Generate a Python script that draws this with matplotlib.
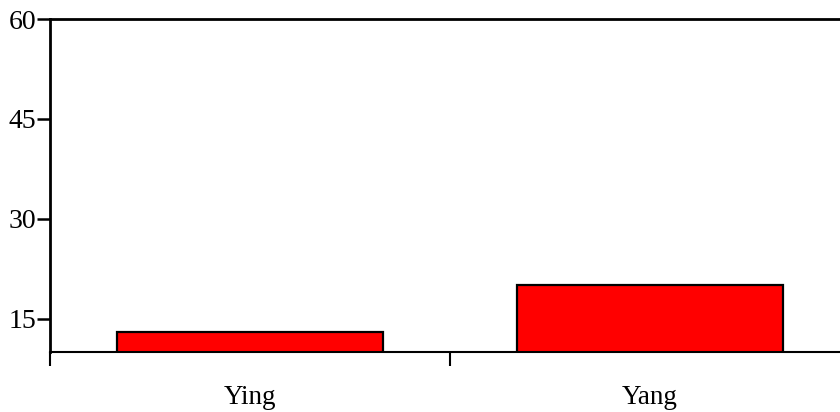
import matplotlib.pyplot as plt
import numpy as np

categories = ['Ying', 'Yang']
values = [13, 20]
y_ticks = [15, 30, 45, 60]

plt.rcParams['font.family'] = ['Liberation Serif', 'DejaVu Serif']

fig = plt.figure(figsize=(8.4, 4.12), dpi=100)
# axes runs a little past the right edge of the figure, as in the original
ax = fig.add_axes([50 / 840, 60 / 412, 800 / 840, 333 / 412])

x = np.arange(len(categories))
ax.bar(x, values, width=0.667, color='#ff0000', edgecolor='black',
       linewidth=1.6, bottom=0, zorder=2)

ax.set_xlim(-0.5, len(categories) - 0.5)
ax.set_ylim(10, 60)

# category dividers as major ticks, names as minor ticks
ax.set_xticks(np.arange(len(categories) + 1) - 0.5)
ax.set_xticklabels([])
ax.set_xticks(x, minor=True)
ax.set_xticklabels(categories, minor=True, fontsize=19.5)
ax.tick_params(axis='x', which='major', direction='out', length=10, width=1.5)
ax.tick_params(axis='x', which='minor', length=0, pad=24)

ax.set_yticks(y_ticks)
ax.set_yticklabels([str(v) for v in y_ticks], fontsize=20)
ax.tick_params(axis='y', direction='out', length=9.5, width=1.8, pad=0.5)

ax.spines['right'].set_visible(False)
ax.spines['left'].set_linewidth(2)
ax.spines['top'].set_linewidth(2)
ax.spines['bottom'].set_linewidth(1.5)

fig.savefig('out.png', dpi=100)
